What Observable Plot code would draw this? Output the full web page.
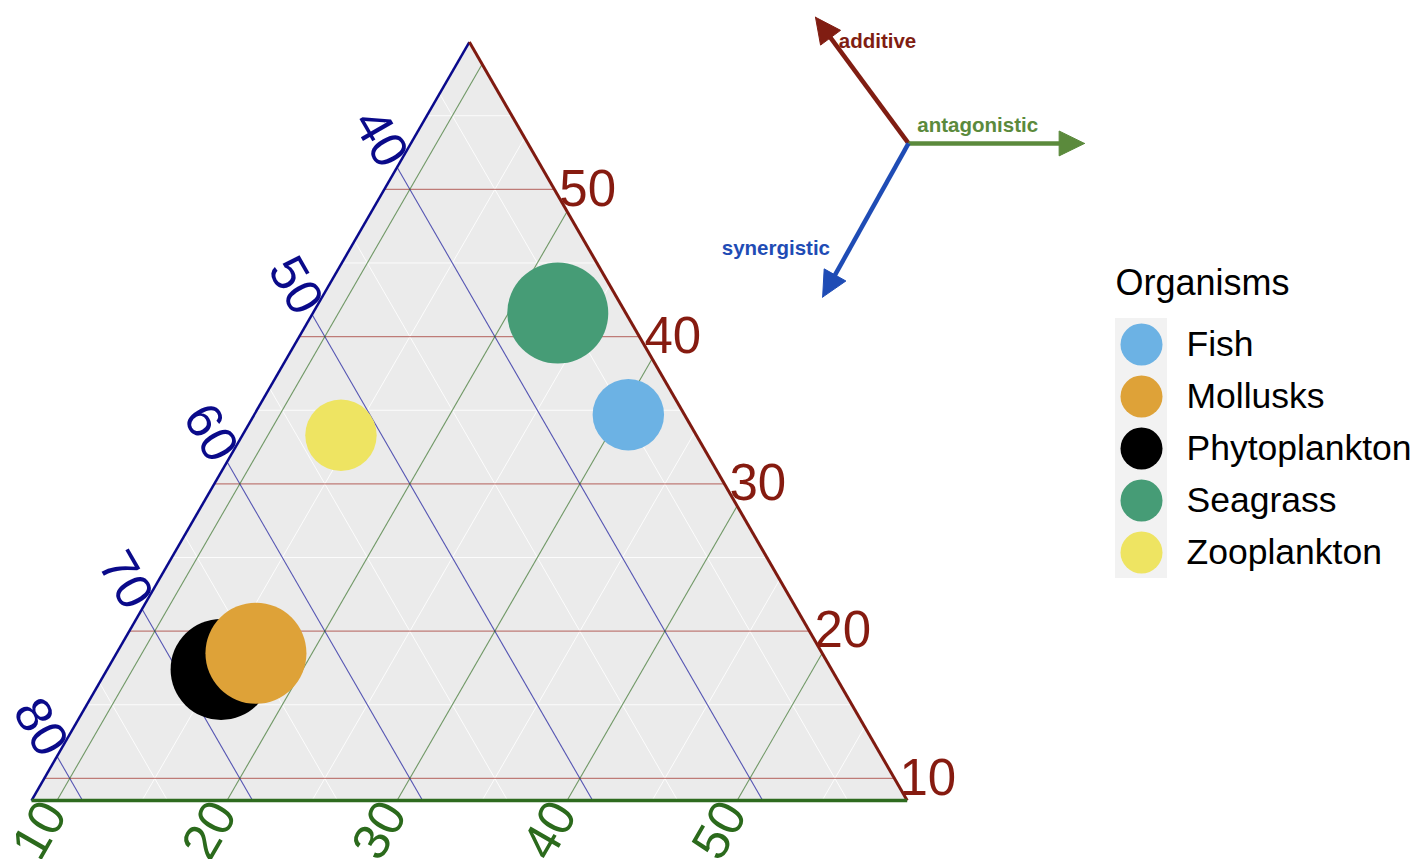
<!DOCTYPE html>
<html><head><meta charset="utf-8">
<script src="https://cdn.jsdelivr.net/npm/d3@7"></script>
<script src="https://cdn.jsdelivr.net/npm/@observablehq/plot@0.6"></script>
<style>
html,body{margin:0;padding:0;background:#fff;overflow:hidden;}
#wrap{position:relative;width:1421px;height:859px;overflow:hidden;}
#legend{position:absolute;left:1100px;top:255px;}
</style></head><body><div id="wrap"><div id="chart"></div><div id="legend"></div></div>
<script>
// ---- data ----
const organisms = ["Fish", "Mollusks", "Phytoplankton", "Seagrass", "Zooplankton"];
const organismColors = ["#6cb2e4", "#dea238", "#000000", "#469c76", "#eee462"];

// points, in drawing order
const pointOrganism = ["Fish", "Phytoplankton", "Mollusks", "Seagrass", "Zooplankton"];
const additive      = [34.7, 17.4, 18.5, 41.6, 33.3];
const synergistic   = [34.8, 67.4, 64.8, 35.5, 52.4];
const antagonistic  = [30.5, 15.2, 16.7, 22.9, 14.3];
const studies       = [1, 2, 2, 2, 1];

// zoomed ternary limits (percent)
const limAdditive = [8.5, 60];
const limSynergistic = [31.5, 83];
const limAntagonistic = [8.5, 60];

const ticksAdditive = [10, 20, 30, 40, 50];
const ticksSynergistic = [40, 50, 60, 70, 80];
const ticksAntagonistic = [10, 20, 30, 40, 50];
const minorAdditive = [15, 25, 35, 45, 55];
const minorSynergistic = [35, 45, 55, 65, 75];
const minorAntagonistic = [15, 25, 35, 45, 55];

// direction compass
const arrowNames = ["additive", "antagonistic", "synergistic"];
const arrowAngles = [126.4, 0, 240.8];
const arrowLengths = [0.179, 0.201, 0.201];
const arrowColors = ["#801d12", "#5b8a3c", "#1f4cb5"];

// ---- ternary projection ----
const SQ = Math.sqrt(3) / 2;
const tMin = limAdditive[0], lMin = limSynergistic[0], rMin = limAntagonistic[0];
const span = limAdditive[1] - limAdditive[0];
function tern(T, L, R) {
  const s = T + L + R;
  const t = (T / s * 100 - tMin) / span;
  const r = (R / s * 100 - rMin) / span;
  return {x: r + t / 2, y: t * SQ};
}
const lMax = limSynergistic[1], tMax = limAdditive[1], rMax = limAntagonistic[1];
const vTop = tern(tMax, lMin, rMin), vLeft = tern(tMin, lMax, rMin), vRight = tern(tMin, lMin, rMax);

function lineT(v) { return [tern(v, 100 - v - rMin, rMin), tern(v, lMin, 100 - v - lMin)]; }
function lineL(v) { return [tern(100 - v - rMin, v, rMin), tern(tMin, v, 100 - v - tMin)]; }
function lineR(v) { return [tern(tMin, 100 - v - tMin, v), tern(100 - v - lMin, lMin, v)]; }
function segs(vals, f) {
  return vals.map(v => { const [a, b] = f(v); return {v, x1: a.x, y1: a.y, x2: b.x, y2: b.y}; });
}
const linkOpts = {x1: "x1", y1: "y1", x2: "x2", y2: "y2"};

const points = pointOrganism.map((o, i) => {
  const p = tern(additive[i], synergistic[i], antagonistic[i]);
  return {organism: o, n: studies[i], x: p.x, y: p.y};
});

const redC = "#861b10", blueC = "#0a0a8a", greenC = "#2b6a1c";
const labelFont = 51;

const labT = segs(ticksAdditive, lineT).map(d => ({v: d.v, x: d.x2, y: d.y2}));
const labL = segs(ticksSynergistic, lineL).map(d => ({v: d.v, x: d.x1, y: d.y1}));
const labR = segs(ticksAntagonistic, lineR).map(d => ({v: d.v, x: d.x1, y: d.y1}));

// arrows
const origin = {x: 1.0015, y: 0.7503};
const headLen = 0.029, headHalf = 0.0142;
const arrowMarks = [];
const labelSpec = [
  {t: 0.75, dx: 0, dy: -7, anchor: "start"},
  {t: 0.05, dx: 0, dy: -17.7, anchor: "start"},
  {t: 0.6, dx: -27, dy: 12.4, anchor: "end"}
];
arrowNames.forEach((name, i) => {
  const a = arrowAngles[i] * Math.PI / 180, L = arrowLengths[i];
  const ux = Math.cos(a), uy = Math.sin(a);
  const tip = {x: origin.x + ux * L, y: origin.y + uy * L};
  const base = {x: tip.x - ux * headLen, y: tip.y - uy * headLen};
  const shaftEnd = {x: tip.x - ux * headLen * 0.7, y: tip.y - uy * headLen * 0.7};
  const head = [tip, {x: base.x - uy * headHalf, y: base.y + ux * headHalf}, {x: base.x + uy * headHalf, y: base.y - ux * headHalf}, tip];
  arrowMarks.push(Plot.link([{x1: origin.x, y1: origin.y, x2: shaftEnd.x, y2: shaftEnd.y}], {...linkOpts, stroke: arrowColors[i], strokeWidth: 4.5}));
  arrowMarks.push(Plot.line(head, {x: "x", y: "y", fill: arrowColors[i], stroke: arrowColors[i], strokeWidth: 1}));
  const ls = labelSpec[i];
  arrowMarks.push(Plot.text([{x: origin.x + ux * L * ls.t, y: origin.y + uy * L * ls.t, label: name}], {
    x: "x", y: "y", text: "label", dx: ls.dx, dy: ls.dy, textAnchor: ls.anchor,
    fill: arrowColors[i], fontSize: 20.5, fontWeight: "bold"
  }));
});

const chart = Plot.plot({
  width: 1421, height: 859,
  marginTop: 0, marginRight: 0, marginBottom: 0, marginLeft: 0,
  style: {fontFamily: "'Liberation Sans', Arial, Helvetica, sans-serif", background: "white", overflow: "hidden"},
  x: {domain: [0, 1], range: [31, 906.7], axis: null},
  y: {domain: [0, SQ], range: [800, 41.6], axis: null},
  color: {domain: organisms, range: organismColors},
  r: {domain: [0, 2], range: [0, 50.5]},
  marks: [
    Plot.line([vTop, vLeft, vRight, vTop], {x: "x", y: "y", fill: "#ebebeb", stroke: "none"}),
    Plot.link(segs(minorAdditive, lineT), {...linkOpts, stroke: "white", strokeWidth: 1, strokeOpacity: 0.85}),
    Plot.link(segs(minorSynergistic, lineL), {...linkOpts, stroke: "white", strokeWidth: 1, strokeOpacity: 0.85}),
    Plot.link(segs(minorAntagonistic, lineR), {...linkOpts, stroke: "white", strokeWidth: 1, strokeOpacity: 0.85}),
    Plot.link(segs(ticksAdditive, lineT), {...linkOpts, stroke: "#a0302a", strokeWidth: 1.1, strokeOpacity: 0.6}),
    Plot.link(segs(ticksSynergistic, lineL), {...linkOpts, stroke: "#1a1a9c", strokeWidth: 1.1, strokeOpacity: 0.72}),
    Plot.link(segs(ticksAntagonistic, lineR), {...linkOpts, stroke: "#2e6b1f", strokeWidth: 1.1, strokeOpacity: 0.65}),
    Plot.link([{x1: vTop.x, y1: vTop.y, x2: vLeft.x, y2: vLeft.y}], {...linkOpts, stroke: "#0a0a8c", strokeWidth: 2.5}),
    Plot.link([{x1: vTop.x, y1: vTop.y, x2: vRight.x, y2: vRight.y}], {...linkOpts, stroke: "#7f1a10", strokeWidth: 3}),
    Plot.link([{x1: vLeft.x, y1: vLeft.y, x2: vRight.x, y2: vRight.y}], {...linkOpts, stroke: "#2e6b1f", strokeWidth: 3.5}),
    Plot.text(labT, {x: "x", y: "y", text: d => String(d.v), textAnchor: "start", dx: 5, fill: redC, fontSize: labelFont}),
    Plot.text(labL, {x: "x", y: "y", text: d => String(d.v), textAnchor: "end", rotate: 60, dx: -2.5, dy: -4.3, fill: blueC, fontSize: labelFont}),
    Plot.text(labR, {x: "x", y: "y", text: d => String(d.v), textAnchor: "end", rotate: -60, dx: -3, dy: 5.2, fill: greenC, fontSize: labelFont}),
    Plot.dot(points, {x: "x", y: "y", r: "n", fill: "organism", stroke: "none"}),
    ...arrowMarks
  ]
});
document.getElementById("chart").appendChild(chart);

// ---- legend ----
const legend = Plot.plot({
  width: 321, height: 340,
  marginTop: 0, marginRight: 0, marginBottom: 0, marginLeft: 0,
  style: {fontFamily: "'Liberation Sans', Arial, Helvetica, sans-serif", background: "transparent"},
  x: {type: "band", domain: ["key"], range: [15, 67], padding: 0, axis: null},
  y: {type: "band", domain: organisms, range: [62, 323.2], padding: 0, axis: null},
  color: {domain: organisms, range: organismColors},
  marks: [
    Plot.cell(organisms, {x: () => "key", y: d => d, fill: "#f2f2f2", inset: 0}),
    Plot.dot(organisms, {x: () => "key", y: d => d, r: 21, fill: d => d}),
    Plot.text(organisms, {x: () => "key", y: d => d, text: d => d, dx: 45, textAnchor: "start", fontSize: 35.5, fill: "black"}),
    Plot.text(["Organisms"], {frameAnchor: "top-left", text: d => d, dx: 15, dy: 14, fontSize: 36, fill: "black", textAnchor: "start", lineAnchor: "top"})
  ]
});
document.getElementById("legend").appendChild(legend);
</script></body></html>
